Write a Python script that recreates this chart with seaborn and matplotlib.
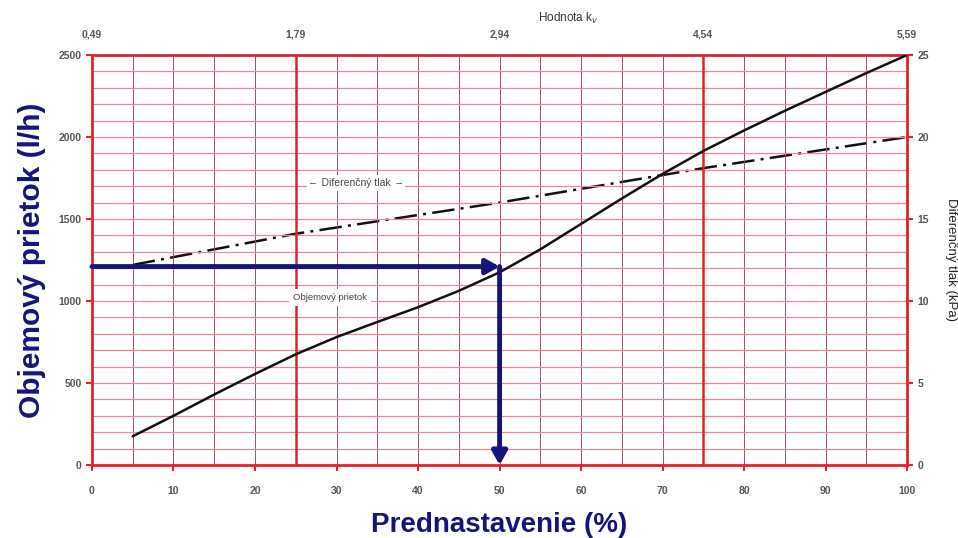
import numpy as np
import pandas as pd
import seaborn as sns
import matplotlib.pyplot as plt

# prednastavenie (%) a objemovy prietok (l/h)
setting = [5, 10, 15, 20, 25, 30, 35, 40, 45, 50, 55, 60, 65, 70, 75, 80, 85, 90, 95, 100]
flow = [175, 300, 430, 555, 675, 780, 872, 962, 1062, 1175, 1315, 1470, 1625, 1775, 1915, 2040, 2160, 2275, 2390, 2500]
# diferencny tlak (kPa)
dp_setting = [5, 25, 50, 75, 100]
dp = [12.2, 14.1, 16.0, 18.1, 20.0]
# hodnota kv na hornej osi
kv_pos = [0, 25, 50, 75, 100]
kv_labels = ['0,49', '1,79', '2,94', '4,54', '5,59']
# odcitanie: 50 % -> 1210 l/h
read_x = 50
read_y = 1210

sns.set_style("white")
plt.rcParams['font.family'] = ['Liberation Sans', 'DejaVu Sans']

red = '#e3222b'
navy = '#14147a'
lab_col = '#555555'

fig = plt.figure(figsize=(9.58, 5.38), dpi=100)
ax = fig.add_axes([0.096, 0.1357, 0.851, 0.7621])

# mriezka
for x in np.arange(5, 100, 5):
    if x in (25, 75):
        continue
    ax.axvline(x, color='#a34c68', lw=0.7, zorder=0)
for y in np.arange(100, 2500, 100):
    ax.axhline(y, color='#ee8896', lw=0.9, zorder=0)
for x in (25, 75):
    ax.axvline(x, color=red, lw=1.8, zorder=1)

df = pd.DataFrame({'setting': setting, 'flow': flow})
sns.lineplot(data=df, x='setting', y='flow', ax=ax, color='#111111', lw=1.8, zorder=4)

ax.set_xlim(0, 100)
ax.set_ylim(0, 2500)
ax.set_xticks(range(0, 101, 10))
ax.set_yticks(range(0, 2501, 500))
ax.tick_params(axis='both', colors=red, length=4, width=1.5, labelsize=7.5)
for lab in ax.get_xticklabels() + ax.get_yticklabels():
    lab.set_fontweight('bold')
    lab.set_color(lab_col)
ax.tick_params(axis='x', pad=11)
for s in ax.spines.values():
    s.set_color(red)
    s.set_linewidth(2)
ax.set_xlabel('Prednastavenie (%)', fontsize=20, fontweight='bold', color=navy, labelpad=12)
ax.set_ylabel('Objemový prietok (l/h)', fontsize=21.5, fontweight='bold', color=navy, labelpad=9)

# prava os - tlak
ax2 = ax.twinx()
dfp = pd.DataFrame({'setting': dp_setting, 'dp': dp})
sns.lineplot(data=dfp, x='setting', y='dp', ax=ax2, color='#111111', lw=1.8, zorder=4)
ax2.get_lines()[0].set_dashes([9, 2.5, 1.2, 2.5])
ax2.set_ylim(0, 25)
ax2.set_yticks(range(0, 26, 5))
ax2.tick_params(axis='y', colors=red, length=4, width=1.5, labelsize=7.5)
for lab in ax2.get_yticklabels():
    lab.set_fontweight('bold')
    lab.set_color(lab_col)
ax2.set_ylabel('Diferenčný tlak (kPa)', fontsize=9.5, color='#222222', rotation=270, labelpad=20)
ax2.set_xlabel('')
for s in ax2.spines.values():
    s.set_visible(False)

# horna os - kv
ax3 = ax.twiny()
ax3.set_xlim(0, 100)
ax3.set_xticks(kv_pos)
ax3.set_xticklabels(kv_labels)
ax3.tick_params(axis='x', length=0, pad=11, labelsize=7.5)
for lab in ax3.get_xticklabels():
    lab.set_fontweight('bold')
    lab.set_color(lab_col)
ax3.set_xlabel('Hodnota k$_v$', fontsize=8.5, color='#333333')
ax3.xaxis.set_label_coords(0.584, 1.08)
for s in ax3.spines.values():
    s.set_visible(False)

# popisky kriviek
ax.text(32.4, 1720, '–  Diferenčný tlak  –', fontsize=7.5, color='#444444', ha='center', va='center',
        bbox=dict(facecolor='white', edgecolor='none', pad=2), zorder=5)
ax.text(29.2, 1020, 'Objemový prietok', fontsize=6.8, color='#444444', ha='center', va='center',
        bbox=dict(facecolor='white', edgecolor='none', pad=3), zorder=5)

# modre sipky
ax.annotate('', xy=(read_x, read_y), xytext=(0, read_y),
            arrowprops=dict(arrowstyle='-|>,head_length=0.8,head_width=0.45', color=navy, lw=3.5,
                            shrinkA=0, shrinkB=0), zorder=6)
ax.annotate('', xy=(read_x, 0), xytext=(read_x, read_y),
            arrowprops=dict(arrowstyle='-|>,head_length=0.8,head_width=0.45', color=navy, lw=3.5,
                            shrinkA=0, shrinkB=0), zorder=6)

ax2.set_zorder(ax.get_zorder() + 1)
ax.set_zorder(ax2.get_zorder() + 1)
ax.patch.set_visible(False)

fig.savefig('out.png', dpi=100)
